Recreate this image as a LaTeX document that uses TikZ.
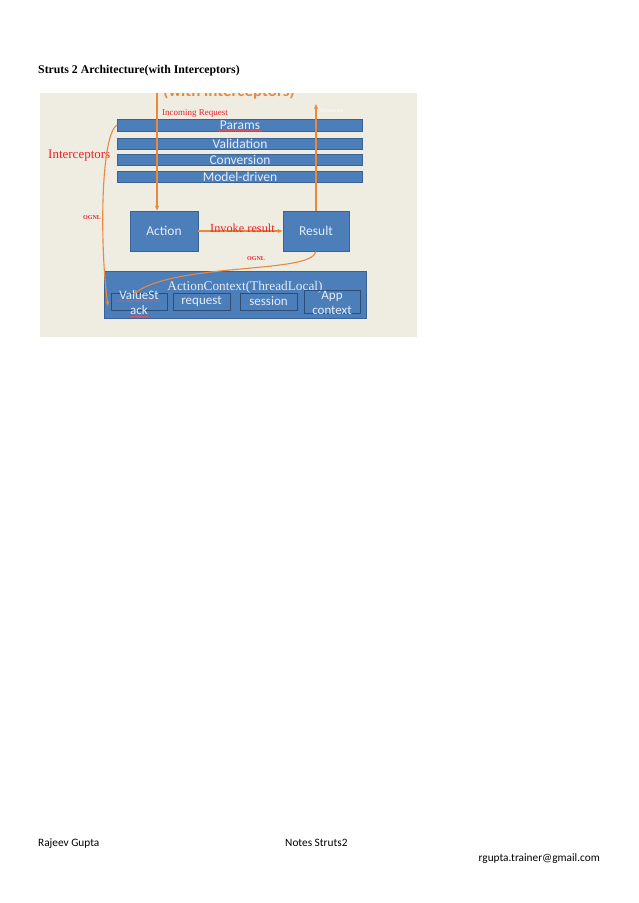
\documentclass[tikz,border=0pt]{standalone}
\usepackage{fontspec}
\setmainfont{Liberation Serif}
\newfontfamily\carlitofont{Carlito}
\usetikzlibrary{arrows.meta,decorations.pathmorphing}
\definecolor{bgc}{HTML}{EFECE2}
\definecolor{barf}{HTML}{4C7EBA}
\definecolor{bard}{HTML}{3A6296}
\definecolor{orng}{HTML}{E8893E}
\definecolor{redt}{HTML}{E8242C}
\definecolor{whitet}{HTML}{E4ECF6}
\tikzset{
  bar/.style={draw=bard,fill=barf,line width=0.8pt,minimum width=245pt,inner sep=0pt,
    text=whitet,font=\carlitofont\fontsize{13.5}{13}\selectfont},
  bigbox/.style={draw=bard,fill=barf,line width=0.8pt,inner sep=0pt,
    text=whitet,font=\carlitofont\fontsize{13.5}{13}\selectfont},
  inbox/.style={draw=bard!80!black,line width=0.7pt,inner sep=0pt},
  intxt/.style={text=whitet,font=\carlitofont\fontsize{13}{15}\selectfont,inner sep=0pt,align=center},
  redlbl/.style={text=redt,inner sep=0pt,anchor=base west},
  oarrow/.style={draw=orng,line width=1.1pt,-{Stealth[length=5pt,width=4pt]}},
  squig/.style={draw=redt!80,line width=0.4pt,decorate,decoration={zigzag,amplitude=0.6pt,segment length=2pt}},
  foot/.style={font=\carlitofont\fontsize{11.3}{12}\selectfont,inner sep=0pt}
}
\begin{document}
\begin{tikzpicture}[x=1pt,y=-1pt]
\useasboundingbox (0,0) rectangle (638,903);
\fill[white] (0,0) rectangle (638,903);
% image background
\fill[bgc] (40,93) rectangle (417,337);
\node[anchor=base west,inner sep=0pt,text=orng,font=\carlitofont\bfseries\fontsize{17}{18}\selectfont] (head) at (163,96) {(with interceptors)};
\fill[white] (30,78) rectangle (427,93);
% title
\node[anchor=base west,inner sep=0pt,font=\bfseries\fontsize{11.8}{12}\selectfont] (title) at (38,73) {Struts 2 Architecture(with Interceptors)};
% interceptor bars
\node[bar,minimum height=12pt] (params) at (240,125) {Params};
\node[bar,minimum height=11pt] (valid) at (240,143.5) {Validation};
\node[bar,minimum height=11pt] (conv) at (240,159.5) {Conversion};
\node[bar,minimum height=11pt] (model) at (240,176.5) {Model-driven};
\draw[squig] (218,131) -- (262,131);
% action & result
\node[bigbox,minimum width=68pt,minimum height=40pt] (action) at (164,231) {Action};
\node[bigbox,minimum width=66pt,minimum height=40pt] (result) at (316,231) {Result};
% action context
\node[bigbox,minimum width=262pt,minimum height=47pt] (ctx) at (235,294.5) {};
\node[inner sep=0pt,text=whitet,font=\fontsize{13.3}{13}\selectfont,anchor=base] (ctxt) at (245,290) {ActionContext(ThreadLocal)};
\node[inbox,minimum width=56pt,minimum height=17pt] (vsbox) at (139,301.5) {};
\node[inbox,minimum width=57pt,minimum height=17pt] (reqbox) at (201.5,301.5) {};
\node[inbox,minimum width=57pt,minimum height=17pt] (sesbox) at (268.5,301.5) {};
\node[inbox,minimum width=56pt,minimum height=23pt] (appbox) at (332,301.5) {};
\node[intxt] (vst) at (139,303) {ValueSt\\ack};
\node[intxt] (reqt) at (reqbox) {request};
\node[intxt] (sest) at (sesbox) {session};
\node[intxt] (appt) at (332,303) {App\\context};
\draw[squig] (117,301) -- (160,301);
\draw[squig] (130,317) -- (149,317);
% incoming request
\coordinate (inc) at (157,93);
\draw[oarrow] (inc) -- (inc |- action.north);
\node[redlbl,font=\fontsize{9}{9}\selectfont] (inclbl) at (162,115.5) {Incoming Request};
% response
\coordinate (resp) at (316,104);
\draw[oarrow] (result.north) -- (resp);
\node[redlbl,text=white!85!bgc,font=\fontsize{6}{7}\selectfont] (resplbl) at (320,112) {Response};
% invoke result
\draw[oarrow] (action.east) -- (result.west);
\node[redlbl,font=\fontsize{12.3}{12}\selectfont] (invlbl) at (210,232) {Invoke result};
% interceptors label
\node[redlbl,font=\fontsize{13}{13}\selectfont] (intlbl) at (48,158) {Interceptors};
% OGNL curves
\coordinate (vsin) at (108,306);
\draw[oarrow] (params.west) .. controls (100,135) and (100,250) .. (vsin);
\node[redlbl,font=\bfseries\fontsize{6}{7}\selectfont] (ognl1) at (83,219) {OGNL};
\coordinate (vsin2) at (133,294);
\draw[oarrow] (result.south) .. controls (312,274) and (180,262) .. (vsin2);
\node[redlbl,font=\bfseries\fontsize{6}{7}\selectfont] (ognl2) at (247,260) {OGNL};
% footer
\node[foot,anchor=base west] (f1) at (38,846) {Rajeev Gupta};
\node[foot,anchor=base west] (f2) at (285,846) {Notes Struts2};
\node[foot,anchor=base east] (f3) at (600,861) {rgupta.trainer@gmail.com};
\end{tikzpicture}
\end{document}
